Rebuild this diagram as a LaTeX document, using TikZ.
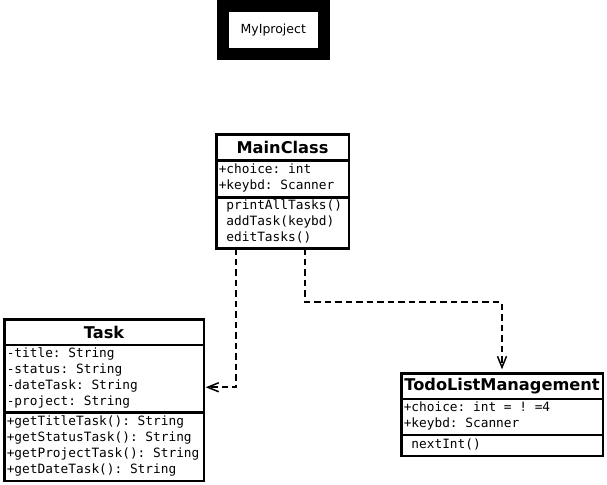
\documentclass[tikz,border=0pt]{standalone}
\usepackage{fontspec}
\setmainfont{DejaVu Sans}
\setsansfont{DejaVu Sans}
\setmonofont{DejaVu Sans Mono}
\usetikzlibrary{arrows.meta,positioning,calc}
\newcommand{\umlfont}{\fontsize{12.8}{16}\selectfont\ttfamily}
\tikzset{
  cbox/.style = { draw, line width=2.5pt, outer sep=0pt, inner xsep=2.5pt, inner ysep=0pt,
    text width=#1, align=flush left, font=\umlfont },
  ctitle/.style = { cbox=#1, align=center, anchor=north west,
    font=\fontsize{16.2}{20}\selectfont\sffamily\bfseries },
  projbox/.style = { draw, line width=12pt, minimum width=100.5pt, minimum height=48pt,
    inner sep=0pt, font=\fontsize{12.5}{15}\selectfont\sffamily },
  dep/.style = { line width=2pt, dash pattern=on 6.5pt off 4pt,
    -{Straight Barb[length=11pt,width=9pt,line width=1.5pt]} }
}

\begin{document}
\begin{tikzpicture}[x=1pt,y=-1pt]
  \useasboundingbox (0,0) rectangle (607,484);
  \node[projbox] (proj) at (273.25,30) {MyIproject};

  % MainClass
  \node[ctitle=127.5pt, minimum height=26pt] (main) at (216.25,134.25) {MainClass};
  \node[cbox=127.5pt, minimum height=37pt, below=0pt of main] (main-attr)
    {\strut+choice: int\\+keybd: Scanner\strut};
  \node[cbox=127.5pt, minimum height=51pt, below=0pt of main-attr] (main-meth)
    {\strut~printAllTasks()\\~addTask(keybd)\\~editTasks()\strut};

  % Task
  \node[ctitle=194.5pt, minimum height=25.5pt] (task) at (4.25,319.25) {Task};
  \node[cbox=194.5pt, minimum height=67.5pt, below=0pt of task] (task-attr)
    {\strut-title: String\\-status: String\\-dateTask: String\\-project: String\strut};
  \node[cbox=194.5pt, minimum height=68.5pt, below=0pt of task-attr] (task-meth)
    {\strut+getTitleTask(): String\\+getStatusTask(): String\\+getProjectTask(): String\\+getDateTask(): String\strut};

  % TodoListManagement
  \node[ctitle=196.5pt, minimum height=25.5pt] (todo) at (401.25,373.25) {TodoListManagement};
  \node[cbox=196.5pt, minimum height=36pt, below=0pt of todo] (todo-attr)
    {\strut+choice: int = ! =4\\+keybd: Scanner\strut};
  \node[cbox=196.5pt, minimum height=21pt, below=0pt of todo-attr] (todo-meth)
    {\strut~nextInt()\strut};

  \draw[dep] ($(main-meth.south west)+(20,0)$) |- ($(task-attr.north east)+(2,42.5)$);
  \draw[dep] ($(main-meth.south west)+(89,0)$) -- ++(0,54) -| ($(todo.north west)+(100.75,-4)$);
\end{tikzpicture}
\end{document}
